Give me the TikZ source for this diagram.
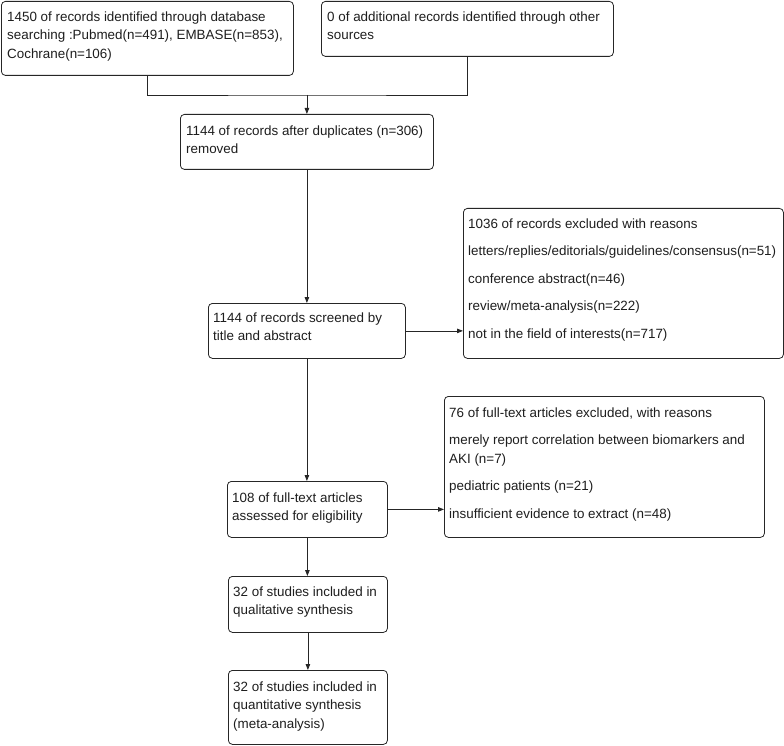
\documentclass[tikz,border=0pt]{standalone}
\usepackage{fontspec}
\setmainfont{Liberation Sans}
\usetikzlibrary{arrows.meta,calc}
\definecolor{linecol}{HTML}{262626}
\definecolor{textcol}{HTML}{1E1E1E}
\tikzset{
  box/.style={draw=linecol, line width=0.8pt, rounded corners=4pt, fill=white, inner sep=0pt, anchor=north west},
  txt/.style={anchor=north west, inner sep=0pt, align=left, text=textcol, font=\fontsize{13.4}{18.5}\selectfont},
  arr/.style={draw=linecol, line width=0.8pt, -{Triangle[length=6pt,width=4.5pt]}},
  ln/.style={draw=linecol, line width=0.8pt}
}
\newcommand{\fs}{\rule{0pt}{11pt}}
\begin{document}
\begin{tikzpicture}[x=1pt,y=-1pt]
\useasboundingbox[fill=white] (0,0) rectangle (784,746);
% boxes
\node[box, minimum width=292pt, minimum height=74pt] (b1) at (1,1) {};
\node[box, minimum width=292pt, minimum height=55pt] (b2) at (321,1) {};
\node[box, minimum width=253pt, minimum height=55pt] (b3) at (180,114) {};
\node[box, minimum width=197pt, minimum height=55pt] (b4) at (208,303) {};
\node[box, minimum width=320pt, minimum height=150pt] (b5) at (463,208) {};
\node[box, minimum width=160pt, minimum height=56pt] (b6) at (227,481) {};
\node[box, minimum width=320pt, minimum height=141pt] (b7) at (444,396) {};
\node[box, minimum width=159pt, minimum height=56pt] (b8) at (228,576) {};
\node[box, minimum width=159pt, minimum height=74pt] (b9) at (228,670) {};
% texts
\node[txt] (t1) at (7,10) {\fs 1450 of records identified through database\\searching :Pubmed(n=491), EMBASE(n=853),\\Cochrane(n=106)};
\node[txt] (t2) at (327,10) {\fs 0 of additional records identified through other\\sources};
\node[txt] (t3) at (186,124) {\fs 1144 of records after duplicates (n=306)\\removed};
\node[txt] (t4) at (213,311) {\fs 1144 of records screened by\\title and abstract};
\node[txt] (t5) at (468,217) {\fs 1036 of records excluded with reasons\\[9pt]letters/replies/editorials/guidelines/consensus(n=51)\\[9pt]conference abstract(n=46)\\[9pt]review/meta-analysis(n=222)\\[9pt]not in the field of interests(n=717)};
\node[txt] (t6) at (232,491) {\fs 108 of full-text articles\\assessed for eligibility};
\node[txt] (t7) at (449,406) {\fs 76 of full-text articles excluded, with reasons\\[9pt]merely report correlation between biomarkers and\\AKI (n=7)\\[9pt]pediatric patients (n=21)\\[9pt]insufficient evidence to extract (n=48)};
\node[txt] (t8) at (233,585) {\fs 32 of studies included in\\qualitative synthesis};
\node[txt] (t9) at (233,680) {\fs 32 of studies included in\\quantitative synthesis\\(meta-analysis)};
% connectors
\coordinate (j) at (b3.north |- 0,95);
\draw[ln] (b1.south) |- (j) -| (b2.south);
\draw[arr] (j) -- (b3.north);
\draw[arr] (b3.south) -- (b4.north);
\draw[arr] (b4.east) -- (b4.east -| b5.west);
\draw[arr] (b4.south) -- (b4.south |- b6.north);
\draw[arr] (b6.east) -- (b6.east -| b7.west);
\draw[arr] (b6.south) -- (b6.south |- b8.north);
\draw[arr] (b8.south) -- (b8.south |- b9.north);
\end{tikzpicture}
\end{document}
